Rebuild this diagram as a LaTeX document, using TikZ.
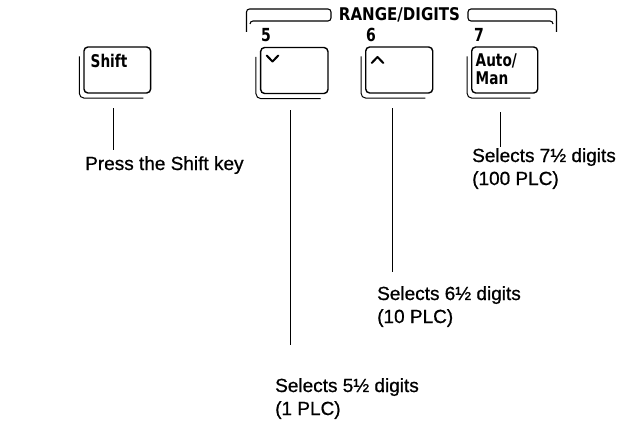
\documentclass[tikz,border=0pt]{standalone}
\usepackage{fontspec}
\setmainfont{Liberation Sans}[FakeBold=0.8]
\newfontfamily\keyfont{DejaVu Sans Bold}[FakeStretch=0.78]
\newfontfamily\rangefont{DejaVu Sans Bold}[FakeStretch=0.86]
\usetikzlibrary{calc}
\begin{document}
\begin{tikzpicture}[x=1pt,y=-1pt,
  keybox/.style={draw, line width=1.4pt, rounded corners=4pt, minimum height=46pt, inner sep=0pt},
  keyshadow/.style={line width=1pt, rounded corners=5pt},
  lead/.style={line width=0.9pt},
  desc/.style={font=\fontsize{19}{23}\selectfont, align=left, anchor=base west, inner sep=0pt},
  keylbl/.style={font=\keyfont\fontsize{17.5}{17.5}\selectfont, anchor=base west, inner sep=0pt, align=left},
  numlbl/.style={font=\keyfont\fontsize{18}{16}\selectfont, anchor=base west, inner sep=0pt},
  chev/.style={line width=2pt, line cap=round, line join=round},
]
\useasboundingbox (0,0) rectangle (634,428);

% keys
\node[keybox, minimum width=66.7pt] (kshift) at (117.3,70) {};
\node[keybox, minimum width=67.3pt] (k5) at (294.3,70.5) {};
\node[keybox, minimum width=67pt] (k6) at (399.2,70) {};
\node[keybox, minimum width=66pt] (k7) at (504.7,70) {};

\foreach \k in {kshift,k5,k6,k7}{
  \draw[keyshadow] ([shift={(-4,10)}]\k.north west) |- ([shift={(-8,4.5)}]\k.south east);
}

% key labels
\node[keylbl] (lshift) at (90.5,67.5) {Shift};
\node[keylbl] (l7) at (475.5,84) {Auto/\\Man};
\draw[chev] (266.7,55.5) -- (272.5,61.5) -- (278.3,55.5);
\draw[chev] (371.7,63) -- (377.5,57) -- (383.3,63);

% numbers
\node[numlbl] (n5) at (261,41.5) {5};
\node[numlbl] (n6) at (366,41.5) {6};
\node[numlbl] (n7) at (474,41.5) {7};

% range/digits bracket
\node[font=\rangefont\fontsize{17.5}{17}\selectfont, inner sep=0pt, anchor=base] (rd) at (399.5,21) {RANGE/DIGITS};
\draw[line width=1.1pt, rounded corners=3pt] (246.5,32) |- (331,9) -- (331,21) -- (250,21) -- (250,24);
\draw[line width=1.1pt, rounded corners=3pt] (556.5,32) |- (468,9) -- (468,21) -- (553,21) -- (553,24);

% lead lines
\coordinate (sa) at (113.3,108);
\coordinate (sb) at (113.3,150);
\coordinate (a5) at (290.7,110);
\coordinate (b5) at (290.7,345);
\coordinate (a6) at (392.7,108);
\coordinate (b6) at (392.7,272);
\coordinate (a7) at (500,112);
\coordinate (b7) at (500,147);
\draw[lead] (sa) -- (sb);
\draw[lead] (a5) -- (b5);
\draw[lead] (a6) -- (b6);
\draw[lead] (a7) -- (b7);

% descriptions (base anchor = baseline of last line)
\node[desc] (dshift) at (85,170) {Press the Shift key};
\node[desc] (d7) at (472,185) {Selects 7½ digits\\(100 PLC)};
\node[desc] (d6) at (377,323) {Selects 6½ digits\\(10 PLC)};
\node[desc] (d5) at (275,415) {Selects 5½ digits\\(1 PLC)};
\end{tikzpicture}
\end{document}
